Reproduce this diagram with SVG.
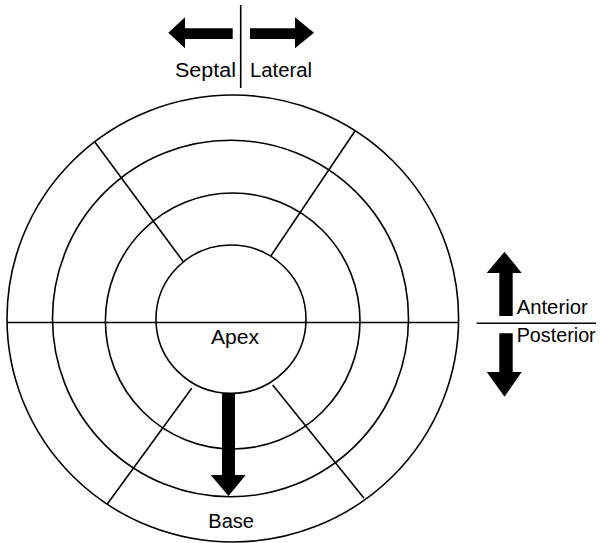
<svg xmlns="http://www.w3.org/2000/svg" width="601" height="543" viewBox="0 0 601 543">
<style>
.ring{fill:none;stroke:#000;stroke-width:1.6}
.ln{stroke:#000;stroke-width:1.6;fill:none}
.ar{fill:#000;stroke:none}
.t{font-family:"Liberation Sans",Arial,sans-serif;font-size:20px;fill:#000}
</style>
<rect width="601" height="543" fill="#fff"/>
<g id="bullseye">
<ellipse class="ring" cx="232.8" cy="318.5" rx="225.8" ry="223.5"/>
<ellipse class="ring" cx="230.5" cy="318.5" rx="178" ry="178.3"/>
<ellipse class="ring" cx="232.7" cy="321" rx="127.3" ry="128"/>
<ellipse class="ring" cx="231" cy="319.2" rx="75" ry="74.2"/>
</g>
<g id="dividers">
<line class="ln" x1="7" y1="322.5" x2="459" y2="322.5" stroke-width="2"/>
<line class="ln" x1="95" y1="142.3" x2="183.3" y2="261.7"/>
<line class="ln" x1="355" y1="131" x2="271" y2="255.7"/>
<line class="ln" x1="191.7" y1="388.3" x2="107.3" y2="504"/>
<line class="ln" x1="272.7" y1="385" x2="364" y2="498.3"/>
</g>
<g id="apex"><text class="t" x="211" y="344.3" textLength="48" lengthAdjust="spacingAndGlyphs">Apex</text></g>
<g id="base-arrow">
<polygon class="ar" points="222,393 235,393 235,475 245.7,475 228.5,496 210.7,475 222,475"/>
<text class="t" x="208.3" y="528.3" textLength="45.7" lengthAdjust="spacingAndGlyphs">Base</text>
</g>
<g id="septal-lateral">
<line class="ln" x1="240.7" y1="5" x2="240.7" y2="88"/>
<polygon class="ar" points="232.7,28.3 185,28.3 185,17.3 168.3,32.8 185,48.3 185,39 232.7,39"/>
<polygon class="ar" points="250,28.3 295,28.3 295,17.3 314,32.8 295,48.3 295,39 250,39"/>
<text class="t" x="175" y="77.3" textLength="61" lengthAdjust="spacingAndGlyphs">Septal</text>
<text class="t" x="250" y="77.3" textLength="62" lengthAdjust="spacingAndGlyphs">Lateral</text>
</g>
<g id="anterior-posterior">
<line class="ln" x1="476.7" y1="323.3" x2="596" y2="323.3"/>
<polygon class="ar" points="499.3,316 512.7,316 512.7,273 521.7,273 504.5,251.7 486.7,273 499.3,273"/>
<polygon class="ar" points="499.3,333.3 512.7,333.3 512.7,372 521.7,372 504.5,396.7 486.7,372 499.3,372"/>
<text class="t" x="516.7" y="314" textLength="71" lengthAdjust="spacingAndGlyphs">Anterior</text>
<text class="t" x="516.7" y="341.7" textLength="79" lengthAdjust="spacingAndGlyphs">Posterior</text>
</g>
</svg>
